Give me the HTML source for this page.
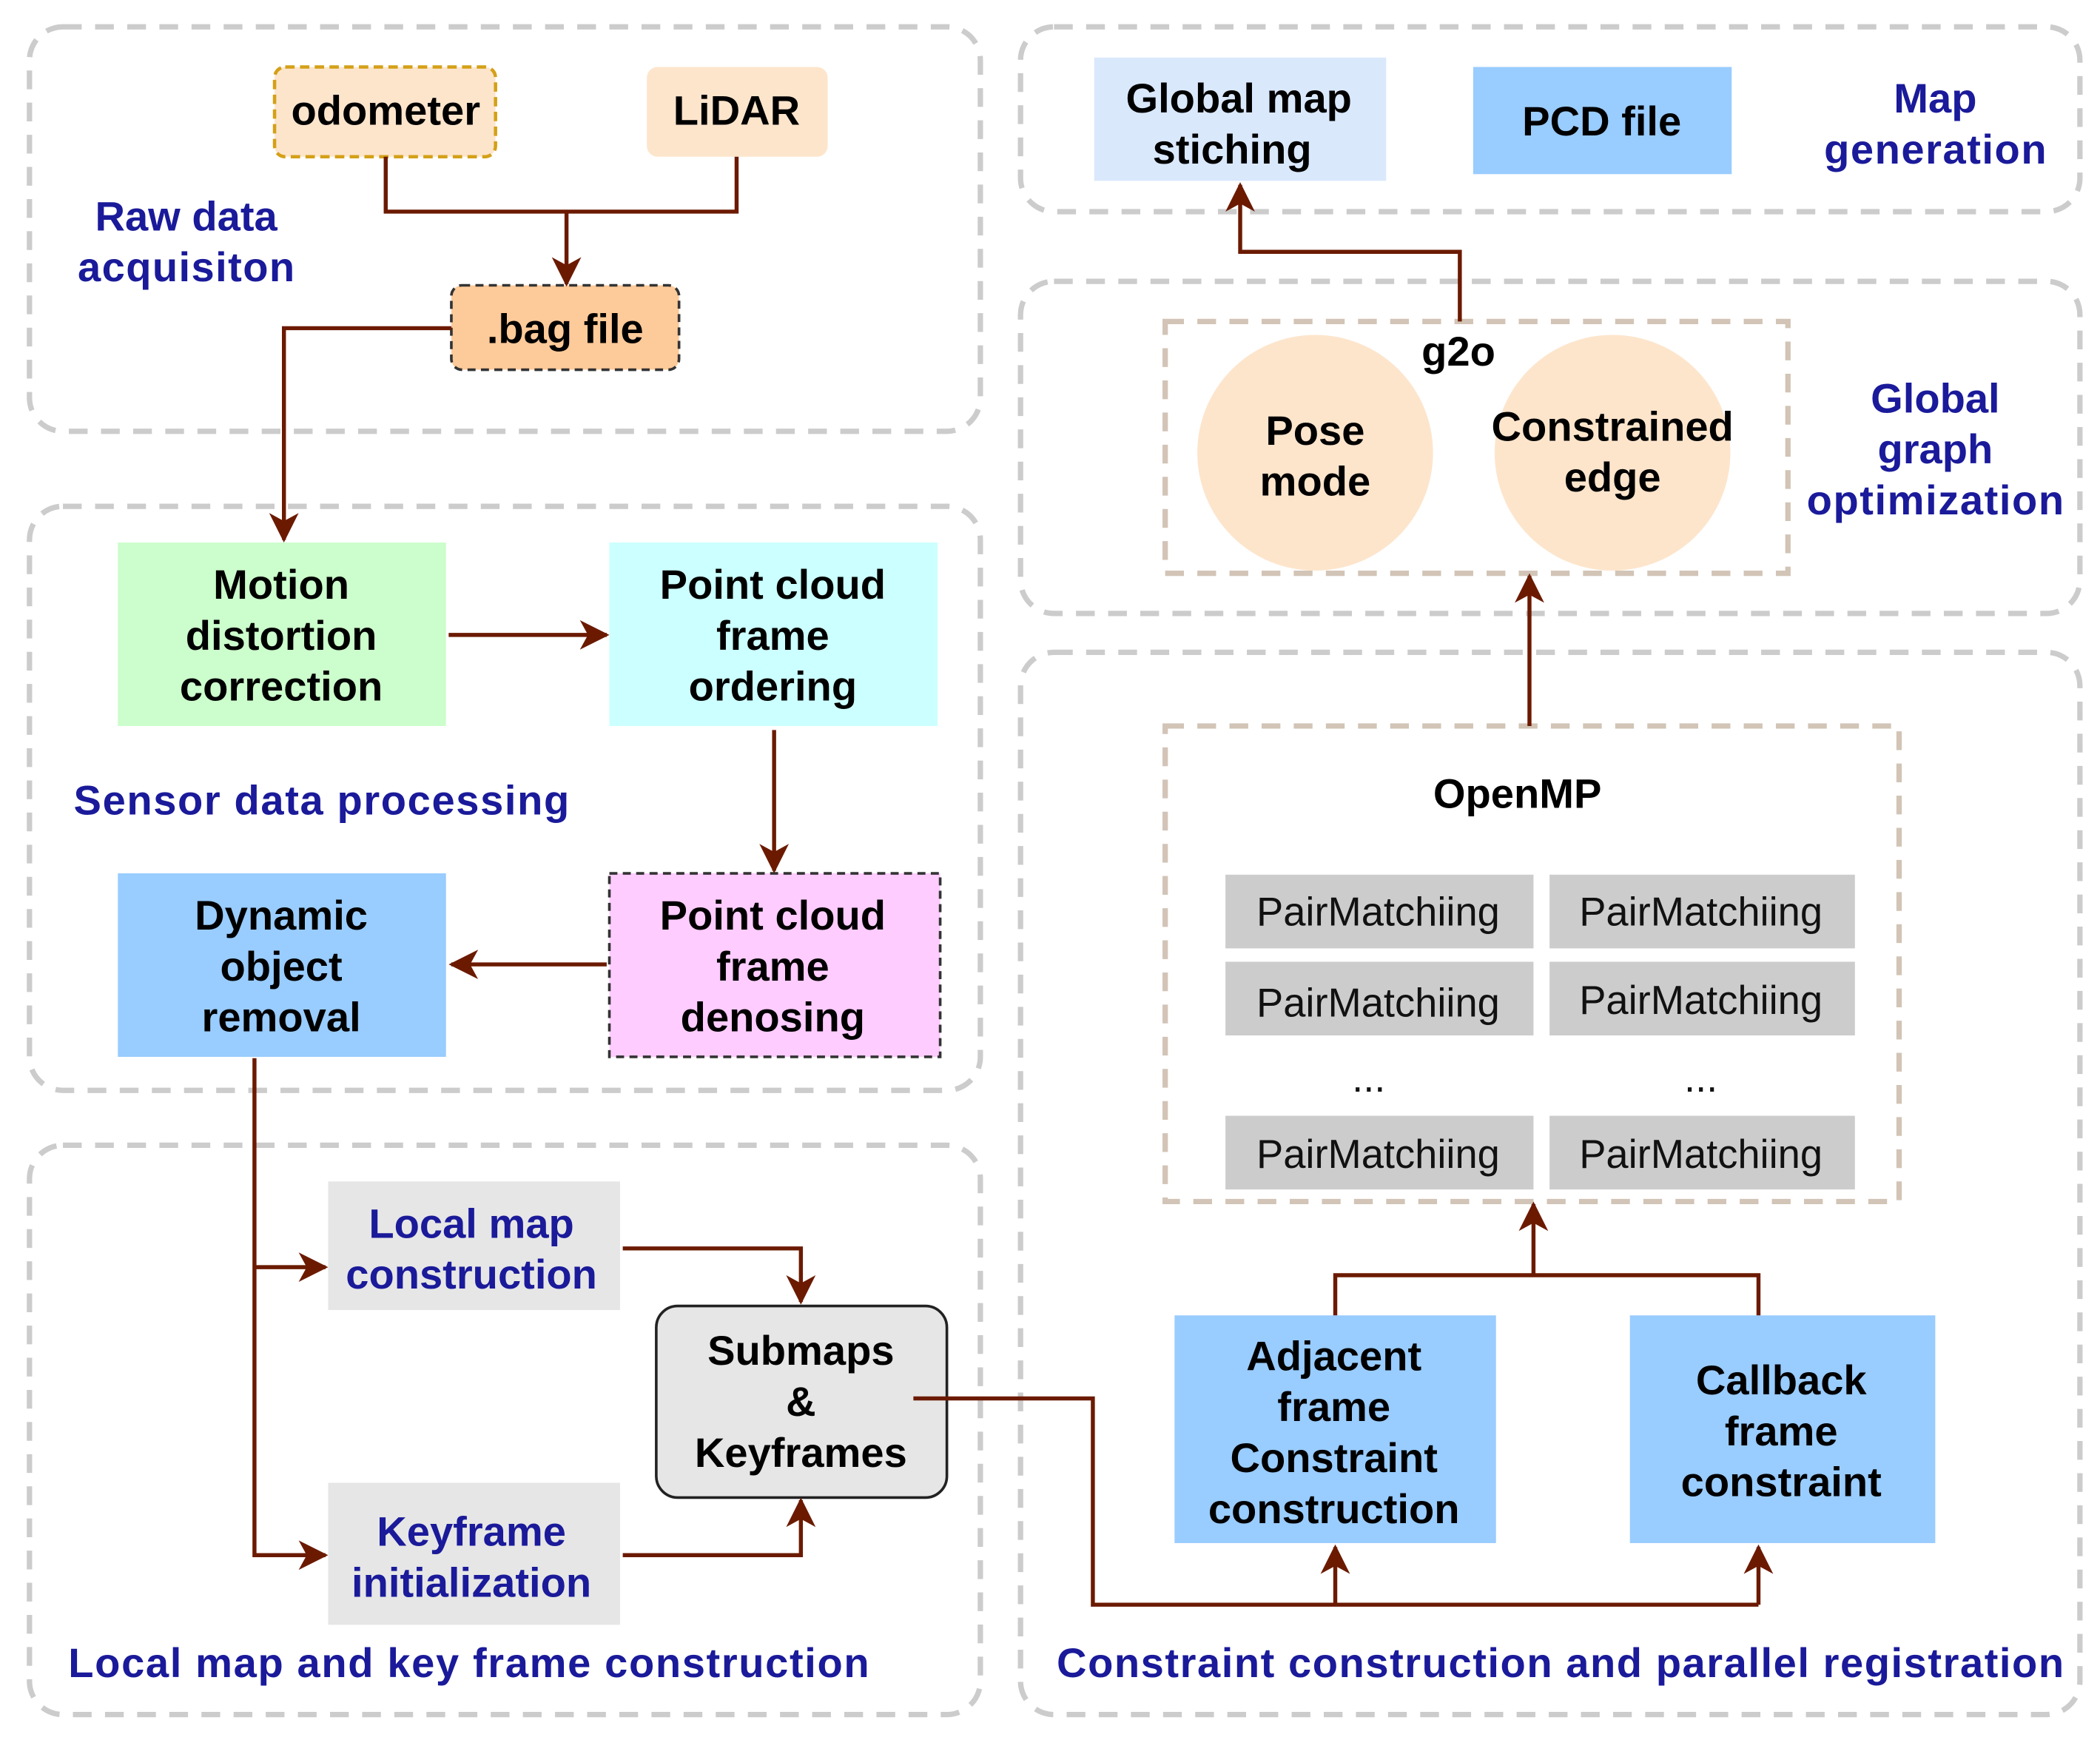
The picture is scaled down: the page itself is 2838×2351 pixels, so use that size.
<!DOCTYPE html>
<html><head><meta charset="utf-8"><style>html,body{margin:0;padding:0;background:#fff}svg{display:block}</style></head>
<body>
<svg width="2838" height="2351" viewBox="0 0 1568 1299" preserveAspectRatio="none" xmlns="http://www.w3.org/2000/svg" font-family="Liberation Sans, sans-serif" font-weight="bold">
<defs>
<marker id="b" markerWidth="22" markerHeight="22" refX="20" refY="11" orient="auto" markerUnits="userSpaceOnUse"><path d="M0,0 L22,11 L0,22 L6,11 z" fill="#6b1a00"/></marker></defs>
<g fill="none" stroke="#cccccc" stroke-width="4" stroke-dasharray="14 10">
<rect x="22" y="20" width="710" height="302" rx="25"/>
<rect x="22" y="378" width="710" height="436" rx="25"/>
<rect x="22" y="855" width="710" height="425" rx="25"/>
<rect x="762" y="20" width="791" height="138" rx="25"/>
<rect x="762" y="210" width="791" height="248" rx="25"/>
<rect x="762" y="487" width="791" height="793" rx="25"/>
</g>
<g fill="none" stroke="#d2c4b6" stroke-width="4" stroke-dasharray="14 10">
<rect x="870" y="240" width="465" height="188"/>
<rect x="870" y="542" width="548" height="355"/>
</g>
<rect x="205" y="50" width="165" height="67" rx="8" fill="#fde5cc" stroke="#d4a017" stroke-width="2.5" stroke-dasharray="7 4"/>
<rect x="483" y="50" width="135" height="67" rx="8" fill="#fde5cc"/>
<rect x="337" y="213" width="170" height="63" rx="8" fill="#fdca99" stroke="#333" stroke-width="2" stroke-dasharray="6 4"/>
<rect x="88" y="405" width="245" height="137" fill="#ccfdcc"/>
<rect x="455" y="405" width="245" height="137" fill="#ccffff"/>
<rect x="88" y="652" width="245" height="137" fill="#99ccff"/>
<rect x="455" y="652" width="247" height="137" fill="#ffccff" stroke="#333" stroke-width="2" stroke-dasharray="6 4"/>
<rect x="245" y="882" width="218" height="96" fill="#e6e6e6"/>
<rect x="245" y="1107" width="218" height="106" fill="#e6e6e6"/>
<rect x="490" y="975" width="217" height="143" rx="16" fill="#e6e6e6" stroke="#222" stroke-width="2"/>
<rect x="817" y="43" width="218" height="92" fill="#dae8fc"/>
<rect x="1100" y="50" width="193" height="80" fill="#99ccff"/>
<ellipse cx="982" cy="338" rx="88" ry="88" fill="#fde5cc"/>
<ellipse cx="1204" cy="338" rx="88" ry="88" fill="#fde5cc"/>
<g fill="#cccccc">
<rect x="915" y="653" width="230" height="55"/><rect x="1157" y="653" width="228" height="55"/>
<rect x="915" y="718" width="230" height="55"/><rect x="1157" y="718" width="228" height="55"/>
<rect x="915" y="833" width="230" height="55"/><rect x="1157" y="833" width="228" height="55"/>
</g>
<rect x="877" y="982" width="240" height="170" fill="#99ccff"/>
<rect x="1217" y="982" width="228" height="170" fill="#99ccff"/>
<g fill="none" stroke="#6b1a00" stroke-width="3">
<polyline points="288,117 288,158 550,158 550,117"/>
<line x1="423" y1="158" x2="423" y2="212" marker-end="url(#b)"/>
<polyline points="337,245 212,245 212,403" marker-end="url(#b)"/>
<line x1="335" y1="474" x2="453" y2="474" marker-end="url(#b)"/>
<line x1="578" y1="545" x2="578" y2="650" marker-end="url(#b)"/>
<line x1="453" y1="720" x2="337" y2="720" marker-end="url(#b)"/>
<polyline points="190,790 190,1161 243,1161" marker-end="url(#b)"/>
<line x1="190" y1="946" x2="243" y2="946" marker-end="url(#b)"/>
<polyline points="465,932 598,932 598,972" marker-end="url(#b)"/>
<polyline points="465,1161 598,1161 598,1120" marker-end="url(#b)"/>
<polyline points="682,1044 816,1044 816,1198 1313,1198"/>
<line x1="997" y1="1198" x2="997" y2="1155" marker-end="url(#b)"/>
<line x1="1313" y1="1198" x2="1313" y2="1155" marker-end="url(#b)"/>
<polyline points="997,982 997,952 1313,952 1313,982"/>
<line x1="1145" y1="952" x2="1145" y2="899" marker-end="url(#b)"/>
<line x1="1142" y1="542" x2="1142" y2="430" marker-end="url(#b)"/>
<polyline points="1090,240 1090,188 926,188 926,138" marker-end="url(#b)"/>
</g>
<g font-size="31" fill="#000" text-anchor="middle">
<text x="288" y="93">odometer</text>
<text x="550" y="93">LiDAR</text>
<text x="422" y="256">.bag file</text>
<text x="210" y="447">Motion</text><text x="210" y="485">distortion</text><text x="210" y="523">correction</text>
<text x="577" y="447">Point cloud</text><text x="577" y="485">frame</text><text x="577" y="523">ordering</text>
<text x="210" y="694">Dynamic</text><text x="210" y="732">object</text><text x="210" y="770">removal</text>
<text x="577" y="694">Point cloud</text><text x="577" y="732">frame</text><text x="577" y="770">denosing</text>
<text x="598" y="1019">Submaps</text><text x="598" y="1057">&amp;</text><text x="598" y="1095">Keyframes</text>
<text x="925" y="84">Global map</text><text x="920" y="122">stiching</text>
<text x="1196" y="101">PCD file</text>
<text x="1089" y="273">g2o</text>
<text x="982" y="332">Pose</text><text x="982" y="370">mode</text>
<text x="1204" y="329">Constrained</text><text x="1204" y="367">edge</text>
<text x="1133" y="603">OpenMP</text>
<text x="996" y="1023">Adjacent</text><text x="996" y="1061">frame</text><text x="996" y="1099">Constraint</text><text x="996" y="1137">construction</text>
<text x="1330" y="1041">Callback</text><text x="1330" y="1079">frame</text><text x="1330" y="1117">constraint</text>
</g>
<g font-size="30" fill="#111" font-weight="normal" text-anchor="middle">
<text x="1029" y="691">PairMatchiing</text><text x="1270" y="691">PairMatchiing</text>
<text x="1029" y="759">PairMatchiing</text><text x="1270" y="757">PairMatchiing</text>
<text x="1022" y="815">...</text><text x="1270" y="815">...</text>
<text x="1029" y="872">PairMatchiing</text><text x="1270" y="872">PairMatchiing</text>
</g>
<g font-size="31" fill="#1a1a9a" text-anchor="middle">
<text x="352" y="924">Local map</text><text x="352" y="962">construction</text>
<text x="352" y="1154">Keyframe</text><text x="352" y="1192">initialization</text>
<text x="139" y="172">Raw data</text><text x="139" y="210" textLength="162">acquisiton</text>
<text x="240" y="608" textLength="370">Sensor data processing</text>
<text x="350" y="1252" textLength="598">Local map and key frame construction</text>
<text x="1165" y="1252" textLength="752">Constraint construction and parallel registration</text>
<text x="1445" y="84">Map</text><text x="1445" y="122" textLength="166">generation</text>
<text x="1445" y="308">Global</text><text x="1445" y="346">graph</text><text x="1445" y="384" textLength="192">optimization</text>
</g>
</svg>
</body></html>
